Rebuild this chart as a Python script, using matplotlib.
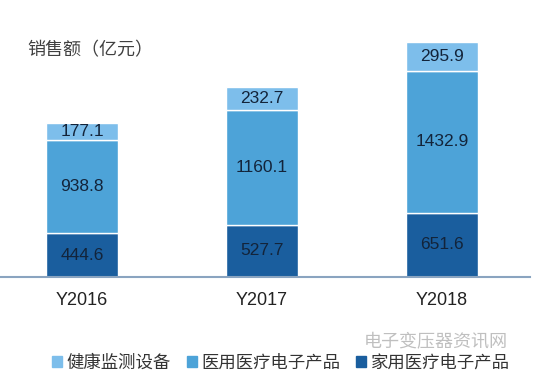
import matplotlib
matplotlib.use('Agg')
from matplotlib import pyplot as plt
from matplotlib.patches import Patch
import numpy as np

plt.rcParams['font.family'] = ['Liberation Sans', 'Noto Sans CJK SC', 'DejaVu Sans']

years = ['Y2016', 'Y2017', 'Y2018']
home = [444.6, 527.7, 651.6]
medical = [938.8, 1160.1, 1432.9]
health = [177.1, 232.7, 295.9]
series_names = ['健康监测设备', '医用医疗电子产品', '家用医疗电子产品']

c_home = '#1a5e9e'
c_med = '#4da3d8'
c_health = '#7dbeeb'

fig = plt.figure(figsize=(5.4, 3.91), dpi=100)
ax = fig.add_axes([0, 0.2916, 530 / 540, 0.923 - 0.2916])

x = np.arange(len(years))
w = 0.4
home = np.array(home)
medical = np.array(medical)
health = np.array(health)

b1 = ax.bar(x, home, w, color=c_home, edgecolor='white', linewidth=1)
b2 = ax.bar(x, medical, w, bottom=home, color=c_med, edgecolor='white', linewidth=1)
b3 = ax.bar(x, health, w, bottom=home + medical, color=c_health, edgecolor='white', linewidth=1)

for bars, vals, bot in [(b1, home, np.zeros(3)), (b2, medical, home), (b3, health, home + medical)]:
    for i, v in enumerate(vals):
        ax.text(x[i], bot[i] + v / 2, f'{v:.1f}', ha='center', va='center',
                fontsize=12.5, color='#13243a')

ax.set_xlim(-0.456, 2.489)
ax.set_ylim(0, 2502)
ax.set_xticks(x)
ax.set_xticklabels(years, fontsize=13, color='#222222')
ax.tick_params(axis='x', length=0, pad=11)
ax.set_yticks([])
for s in ['top', 'right', 'left']:
    ax.spines[s].set_visible(False)
ax.spines['bottom'].set_color('#8aa4c0')
ax.spines['bottom'].set_linewidth(1.5)

fig.text(27 / 540, 1 - 51 / 391, '销售额（亿元）', fontsize=13, color='#404040',
         va='center', ha='left')

handles = [Patch(color=c_health), Patch(color=c_med), Patch(color=c_home)]
fig.legend(handles, series_names, loc='center', bbox_to_anchor=(0.52, 1 - 362 / 391),
           ncol=3, frameon=False, fontsize=12.5, handlelength=0.6, handleheight=0.6,
           handletextpad=0.25, columnspacing=0.9, labelcolor='#333333')

fig.text(508 / 540, 1 - 343 / 391, '电子变压器资讯网', fontsize=13, color='#b0b0b0',
         ha='right', va='center', alpha=0.8)

fig.savefig('out.png', dpi=100)
